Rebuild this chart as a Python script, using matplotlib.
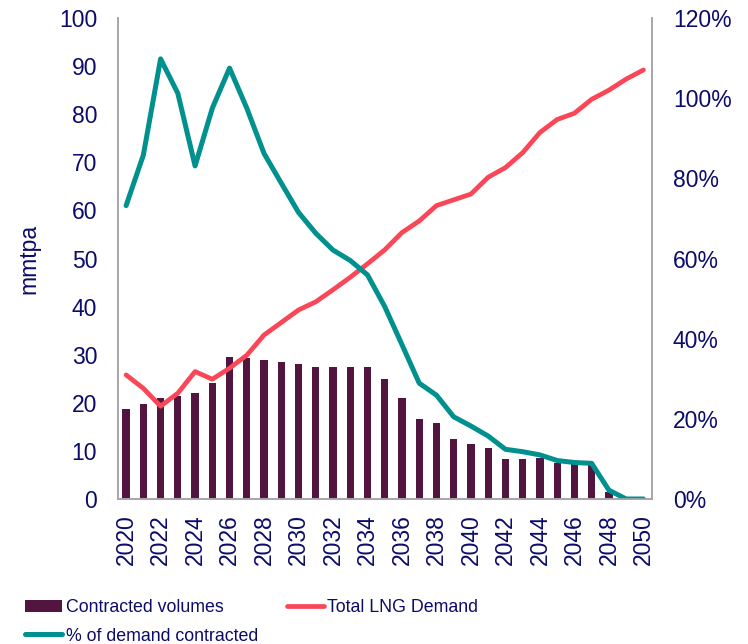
import matplotlib
matplotlib.use("Agg")
import matplotlib.pyplot as plt
import numpy as np

years = list(range(2020, 2051))

contracted_volumes = [18.7, 19.7, 21.1, 21.5, 22.0, 24.2, 29.5, 29.4, 28.8, 28.5,
                      28.0, 27.4, 27.4, 27.4, 27.4, 24.9, 21.1, 16.6, 15.7, 12.5,
                      11.5, 10.6, 8.3, 8.3, 8.5, 7.5, 7.5, 7.3, 1.5, 0.0, 0.0]

total_lng_demand = [25.8, 23.0, 19.3, 22.0, 26.5, 24.9, 27.2, 29.9, 34.1, 36.7,
                    39.3, 41.0, 43.5, 46.1, 48.9, 51.8, 55.4, 57.8, 61.0, 62.2,
                    63.4, 66.9, 68.9, 72.0, 76.2, 78.9, 80.2, 83.1, 85.0, 87.3, 89.2]

pct_contracted = [73.2, 85.8, 109.8, 101.2, 83.1, 97.5, 107.5, 97.5, 86.2, 78.8,
                  71.5, 66.3, 62.1, 59.5, 55.9, 48.0, 38.5, 28.9, 25.9, 20.5,
                  18.2, 15.7, 12.4, 11.8, 11.0, 9.6, 9.1, 8.9, 2.2, 0.0, 0.0]

NAVY = "#0B0B6B"
BAR = "#52153F"
RED = "#FB4657"
TEAL = "#00908E"
GREY = "#A6A6A6"

plt.rcParams["font.family"] = ["Liberation Sans", "DejaVu Sans"]

fig = plt.figure(figsize=(7.48, 6.44), dpi=100)
ax = fig.add_axes([118 / 748, 1 - 499 / 644, (652 - 118) / 748, (499 - 18) / 644])
ax2 = ax.twinx()

x = np.arange(len(years))
bars = ax.bar(x, contracted_volumes, width=0.42, color=BAR, label="Contracted volumes", zorder=2)
red_line, = ax.plot(x, total_lng_demand, color=RED, linewidth=3.4,
                    solid_capstyle="round", solid_joinstyle="round",
                    label="Total LNG Demand", zorder=3)
teal_line, = ax2.plot(x, pct_contracted, color=TEAL, linewidth=3.6,
                      solid_capstyle="round", solid_joinstyle="round",
                      label="% of demand contracted")

ax.set_xlim(-0.47, 30.5)
ax.set_ylim(0, 100)
ax2.set_ylim(0, 120)
ax.set_yticks(np.arange(0, 101, 10))
ax2.set_yticks(np.arange(0, 121, 20))
ax2.set_yticklabels([f"{v}%" for v in range(0, 121, 20)])
ax.set_xticks(x[::2])
ax.set_xticklabels([str(y) for y in years[::2]], rotation=90)

for a in (ax, ax2):
    a.spines["top"].set_visible(False)
    for side in ("left", "right", "bottom"):
        a.spines[side].set_color(GREY)
        a.spines[side].set_linewidth(1.2)
    a.tick_params(length=0, labelsize=16.5, labelcolor=NAVY)
ax.tick_params(axis="y", pad=15)
ax2.tick_params(axis="y", pad=15)
ax.tick_params(axis="x", pad=11)

ax.set_ylabel("mmtpa", fontsize=16.5, color=NAVY, labelpad=13)

fig.legend([bars, teal_line, red_line],
           ["Contracted volumes", "% of demand contracted", "Total LNG Demand"],
           ncol=2, loc="upper left", bbox_to_anchor=(25 / 748, 1 - 599 / 644),
           frameon=False, fontsize=12.8, labelcolor=NAVY,
           handlelength=2.1, handletextpad=0.2, columnspacing=1.6,
           borderpad=0, borderaxespad=0, labelspacing=0.65)

fig.savefig("out.png", dpi=100)
